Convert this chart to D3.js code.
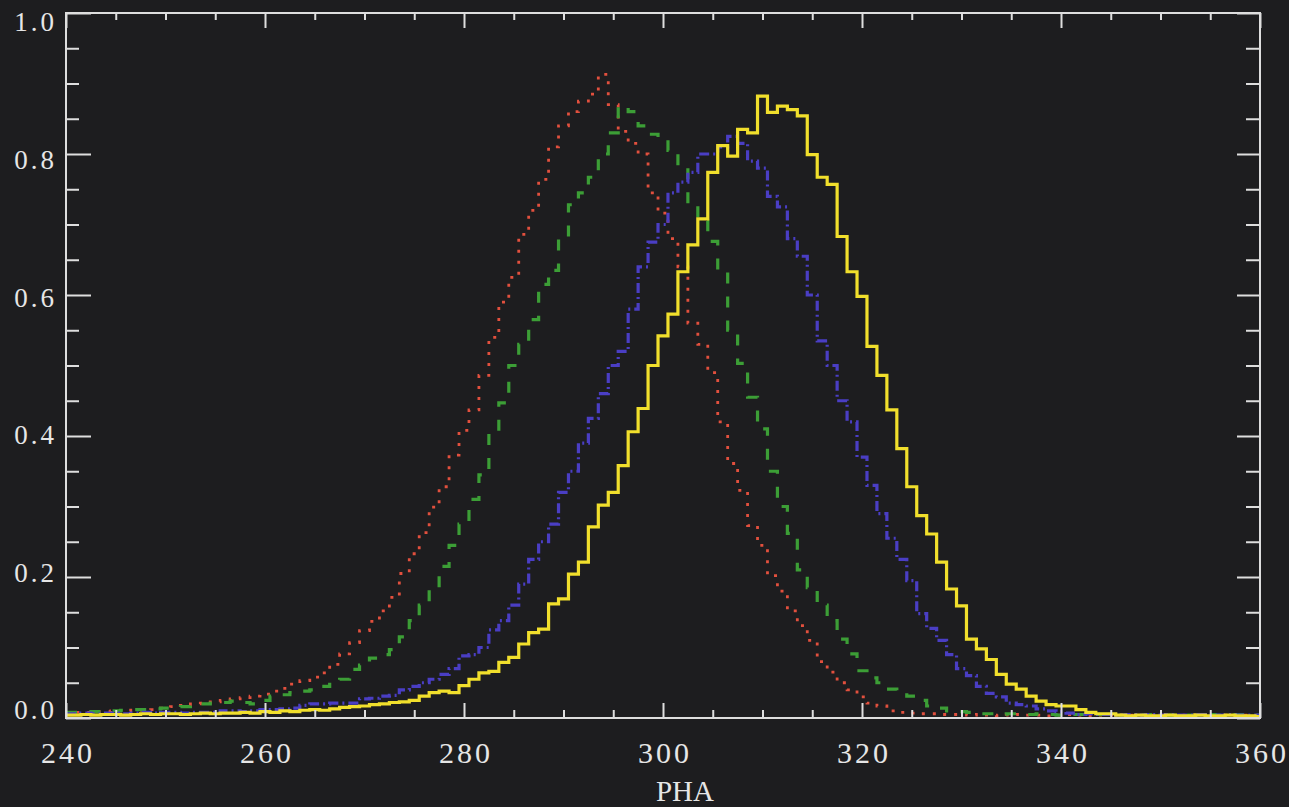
<!DOCTYPE html>
<html>
<head>
<meta charset="utf-8">
<script src="https://cdn.jsdelivr.net/npm/d3@7/dist/d3.min.js"></script>
<style>
  html, body { margin: 0; padding: 0; background: #1d1d1f; }
  svg { display: block; }
  svg text { font-family: "Liberation Serif", "DejaVu Serif", serif; }
</style>
</head>
<body>
<div id="chart"></div>
<script>
// PHA histograms, one bin per channel 240..360

const pha = d3.range(240, 361);

const redVals = [
  0.007, 0.008, 0.008, 0.009, 0.009, 0.010, 0.010, 0.011, 0.011, 0.012,
  0.014, 0.016, 0.018, 0.020, 0.021, 0.023, 0.025, 0.027, 0.029, 0.031,
  0.034, 0.038, 0.042, 0.048, 0.053, 0.058, 0.064, 0.076, 0.091, 0.107,
  0.124, 0.137, 0.152, 0.171, 0.205, 0.233, 0.263, 0.299, 0.328, 0.373,
  0.408, 0.437, 0.486, 0.540, 0.590, 0.625, 0.686, 0.720, 0.764, 0.810,
  0.840, 0.860, 0.875, 0.885, 0.913, 0.870, 0.832, 0.815, 0.800, 0.745,
  0.716, 0.680, 0.640, 0.560, 0.530, 0.490, 0.420, 0.361, 0.323, 0.273,
  0.245, 0.202, 0.180, 0.152, 0.131, 0.110, 0.080, 0.065, 0.050, 0.040,
  0.030, 0.021, 0.017, 0.010, 0.008, 0.007, 0.006, 0.006, 0.005, 0.005,
  0.005, 0.004, 0.005, 0.004, 0.003, 0.004, 0.005, 0.004, 0.004, 0.003,
  0.004, 0.005, 0.004, 0.003, 0.004, 0.004, 0.005, 0.004, 0.003, 0.004,
  0.004, 0.003, 0.004, 0.005, 0.004, 0.003, 0.004, 0.004, 0.003, 0.004,
  0.003
];

const greenVals = [
  0.008, 0.008, 0.009, 0.009, 0.010, 0.010, 0.011, 0.012, 0.012, 0.013,
  0.014, 0.015, 0.016, 0.018, 0.020, 0.021, 0.022, 0.024, 0.022, 0.020,
  0.025, 0.031, 0.033, 0.036, 0.038, 0.040, 0.045, 0.053, 0.055, 0.069,
  0.075, 0.085, 0.090, 0.097, 0.115, 0.138, 0.160, 0.185, 0.215, 0.245,
  0.275, 0.310, 0.345, 0.405, 0.447, 0.500, 0.530, 0.565, 0.615, 0.635,
  0.680, 0.728, 0.745, 0.767, 0.800, 0.830, 0.868, 0.860, 0.840, 0.828,
  0.823, 0.805, 0.780, 0.730, 0.705, 0.676, 0.634, 0.550, 0.503, 0.455,
  0.410, 0.350, 0.300, 0.262, 0.210, 0.185, 0.160, 0.138, 0.112, 0.091,
  0.067, 0.057, 0.050, 0.041, 0.035, 0.031, 0.025, 0.017, 0.014, 0.010,
  0.009, 0.008, 0.006, 0.006, 0.005, 0.006, 0.005, 0.005, 0.006, 0.005,
  0.004, 0.005, 0.005, 0.004, 0.005, 0.005, 0.004, 0.005, 0.004, 0.005,
  0.005, 0.004, 0.005, 0.004, 0.004, 0.005, 0.004, 0.004, 0.005, 0.004,
  0.004
];

const blueVals = [
  0.006, 0.006, 0.007, 0.006, 0.007, 0.007, 0.006, 0.007, 0.008, 0.007,
  0.008, 0.008, 0.007, 0.008, 0.008, 0.008, 0.010, 0.010, 0.009, 0.010,
  0.012, 0.012, 0.013, 0.014, 0.018, 0.020, 0.020, 0.021, 0.021, 0.021,
  0.027, 0.028, 0.031, 0.032, 0.040, 0.045, 0.050, 0.055, 0.062, 0.070,
  0.088, 0.090, 0.100, 0.125, 0.138, 0.160, 0.190, 0.225, 0.250, 0.275,
  0.320, 0.350, 0.390, 0.425, 0.460, 0.500, 0.520, 0.580, 0.640, 0.675,
  0.700, 0.745, 0.760, 0.774, 0.800, 0.800, 0.810, 0.825, 0.815, 0.790,
  0.780, 0.740, 0.725, 0.680, 0.655, 0.600, 0.535, 0.500, 0.450, 0.420,
  0.370, 0.330, 0.290, 0.255, 0.225, 0.195, 0.148, 0.127, 0.110, 0.090,
  0.070, 0.060, 0.045, 0.035, 0.030, 0.021, 0.019, 0.017, 0.013, 0.010,
  0.009, 0.007, 0.005, 0.006, 0.005, 0.005, 0.004, 0.005, 0.004, 0.005,
  0.004, 0.005, 0.004, 0.004, 0.005, 0.004, 0.004, 0.005, 0.004, 0.004,
  0.004
];

const yellowVals = [
  0.004, 0.004, 0.005, 0.004, 0.005, 0.005, 0.004, 0.005, 0.006, 0.005,
  0.006, 0.006, 0.005, 0.006, 0.007, 0.006, 0.007, 0.007, 0.008, 0.007,
  0.009, 0.008, 0.010, 0.009, 0.011, 0.012, 0.011, 0.013, 0.015, 0.016,
  0.017, 0.019, 0.020, 0.022, 0.023, 0.025, 0.031, 0.036, 0.038, 0.036,
  0.046, 0.055, 0.064, 0.066, 0.079, 0.086, 0.105, 0.121, 0.126, 0.162,
  0.169, 0.204, 0.221, 0.271, 0.302, 0.320, 0.358, 0.406, 0.439, 0.500,
  0.542, 0.573, 0.633, 0.671, 0.708, 0.774, 0.812, 0.797, 0.835, 0.830,
  0.882, 0.859, 0.868, 0.863, 0.854, 0.799, 0.767, 0.757, 0.683, 0.633,
  0.598, 0.527, 0.486, 0.437, 0.382, 0.328, 0.287, 0.261, 0.221, 0.183,
  0.159, 0.112, 0.098, 0.083, 0.062, 0.048, 0.041, 0.031, 0.024, 0.019,
  0.017, 0.017, 0.012, 0.008, 0.006, 0.006, 0.004, 0.003, 0.004, 0.003,
  0.003, 0.004, 0.003, 0.003, 0.004, 0.003, 0.003, 0.004, 0.003, 0.003,
  0.002
];

const xMajorTicks = [240, 260, 280, 300, 320, 340, 360];
const xMinorTicks = d3.range(245, 360, 5).filter(v => v % 20 !== 0);
const yMajorTicks = [0, 0.2, 0.4, 0.6, 0.8, 1.0];
const yMinorTicks = d3.range(0.05, 1.0, 0.05).filter(v => Math.abs(v / 0.2 - Math.round(v / 0.2)) > 0.01);
const yTickLabels = ["0.0", "0.2", "0.4", "0.6", "0.8", "1.0"];
const xTitle = "PHA";

const W = 1289, H = 807;
const axisColor = "#dedede";

const svg = d3.select("#chart").append("svg")
  .attr("width", W)
  .attr("height", H);

svg.append("rect")
  .attr("width", W).attr("height", H)
  .attr("fill", "#1d1d1f");

const x = d3.scaleLinear().domain([240, 360]).range([66, 1260]);
const y = d3.scaleLinear().domain([0, 1]).range([718, 13]);
// labels sit a little off the ticks in the original print
const yLab = d3.scaleLinear().domain([0, 1]).range([710, 22]);

svg.append("clipPath").attr("id", "plot")
  .append("rect")
  .attr("x", x(240)).attr("y", y(1))
  .attr("width", x(360) - x(240)).attr("height", y(0) - y(1));

// histograms
const series = [
  { vals: redVals,    color: "#e2503e", dash: "3,8",        width: 2.8 },
  { vals: greenVals,  color: "#3c9e36", dash: "11,13",      width: 3.2 },
  { vals: blueVals,   color: "#4a3ec4", dash: "10,4,2,4",   width: 3.2 },
  { vals: yellowVals, color: "#f1df2c", dash: null,         width: 3.2 }
];

const line = d3.line()
  .x((d, i) => x(pha[i]))
  .y(d => y(d))
  .curve(d3.curveStep);

const g = svg.append("g").attr("clip-path", "url(#plot)");
series.forEach(s => {
  g.append("path")
    .datum(s.vals)
    .attr("d", line)
    .attr("fill", "none")
    .attr("stroke", s.color)
    .attr("stroke-width", s.width)
    .attr("stroke-dasharray", s.dash)
    .attr("stroke-linejoin", "miter");
});

// axes, ticks pointing inward on all four sides
function ticks(axis, len) {
  return sel => {
    sel.call(axis.tickSize(len).tickFormat(""));
    sel.select(".domain").remove();
    sel.selectAll(".tick line").attr("stroke", axisColor).attr("stroke-width", 2);
  };
}

svg.append("g").attr("transform", `translate(0,${y(0)})`)
  .call(ticks(d3.axisBottom(x).tickValues(xMajorTicks), -15));
svg.append("g").attr("transform", `translate(0,${y(0)})`)
  .call(ticks(d3.axisBottom(x).tickValues(xMinorTicks), -8));
svg.append("g").attr("transform", `translate(0,${y(1)})`)
  .call(ticks(d3.axisTop(x).tickValues(xMajorTicks), -15));
svg.append("g").attr("transform", `translate(0,${y(1)})`)
  .call(ticks(d3.axisTop(x).tickValues(xMinorTicks), -7));

svg.append("g").attr("transform", `translate(${x(240)},0)`)
  .call(ticks(d3.axisLeft(y).tickValues(yMajorTicks), -25));
svg.append("g").attr("transform", `translate(${x(240)},0)`)
  .call(ticks(d3.axisLeft(y).tickValues(yMinorTicks), -13));
svg.append("g").attr("transform", `translate(${x(360)},0)`)
  .call(ticks(d3.axisRight(y).tickValues(yMajorTicks), -23));
svg.append("g").attr("transform", `translate(${x(360)},0)`)
  .call(ticks(d3.axisRight(y).tickValues(yMinorTicks), -14));

// frame
svg.append("rect")
  .attr("x", x(240)).attr("y", y(1))
  .attr("width", x(360) - x(240)).attr("height", y(0) - y(1))
  .attr("fill", "none")
  .attr("stroke", axisColor)
  .attr("stroke-width", 2);

// labels
svg.append("g").selectAll("text")
  .data(xMajorTicks)
  .enter().append("text")
  .attr("x", d => x(d) + 2)
  .attr("y", 763)
  .attr("text-anchor", "middle")
  .style("font-size", "30px")
  .style("letter-spacing", "3px")
  .attr("fill", "#e6e6e6")
  .text(d => d);

svg.append("g").selectAll("text")
  .data(yMajorTicks)
  .enter().append("text")
  .attr("x", 57)
  .attr("y", d => yLab(d))
  .attr("dy", "0.35em")
  .attr("text-anchor", "end")
  .style("font-size", "27px")
  .style("letter-spacing", "3px")
  .attr("fill", "#e6e6e6")
  .text((d, i) => yTickLabels[i]);

svg.append("text")
  .attr("x", x(302.2))
  .attr("y", 801)
  .attr("text-anchor", "middle")
  .style("font-size", "29px")
  .attr("fill", "#e6e6e6")
  .text(xTitle);
</script>
</body>
</html>
